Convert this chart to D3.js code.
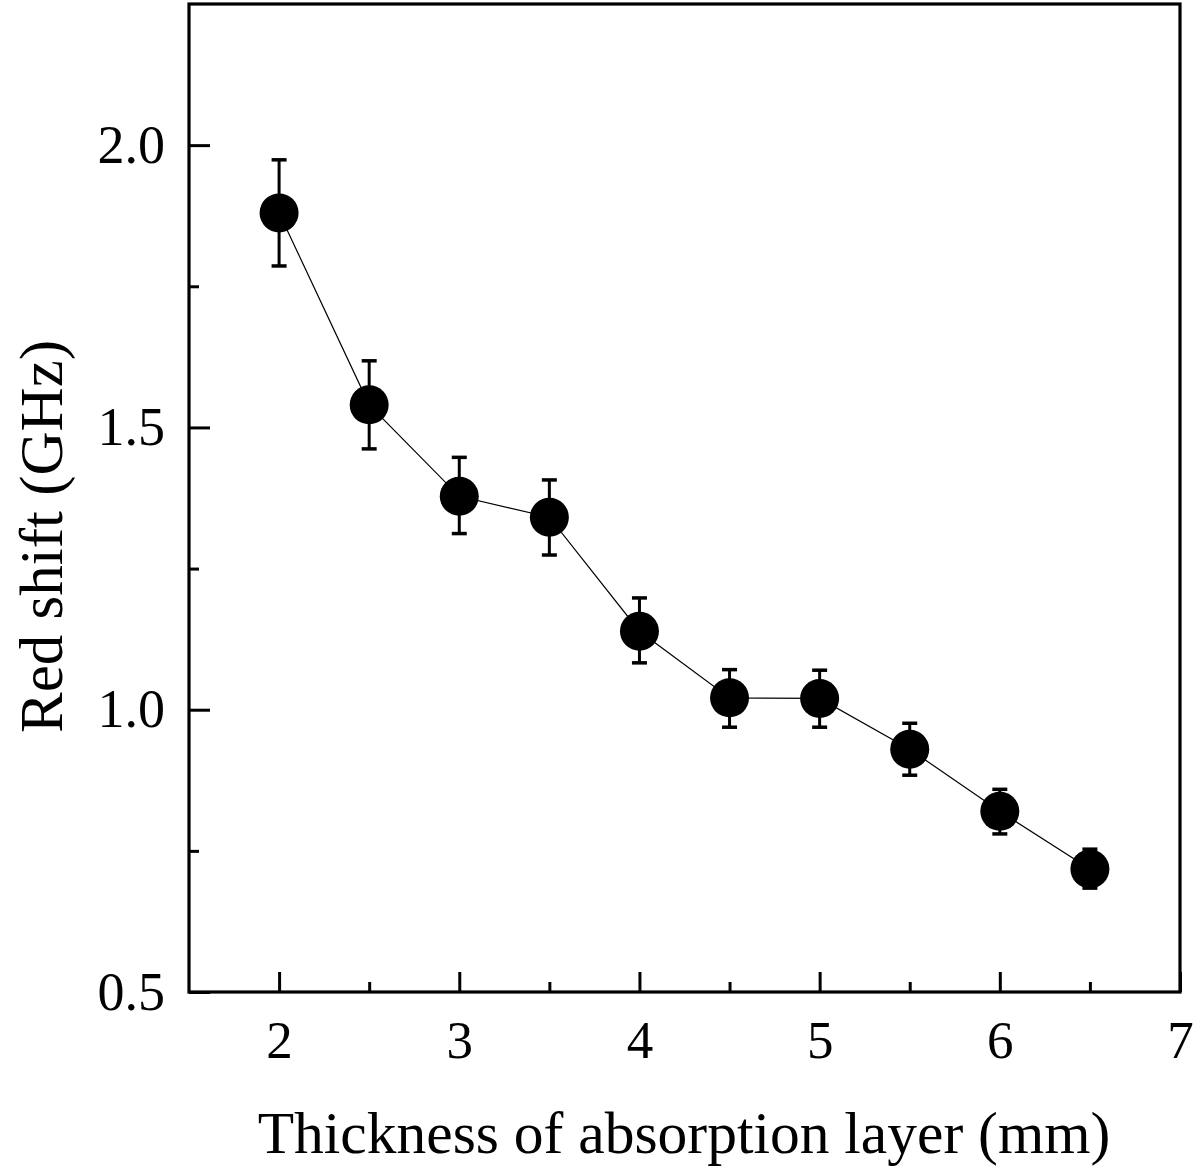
<!DOCTYPE html>
<html><head><meta charset="utf-8">
<script src="https://cdn.jsdelivr.net/npm/d3@7"></script>
<style>body{margin:0;background:#fff}svg{display:block}text{font-family:"Liberation Serif","Times New Roman",serif;fill:#000}</style>
</head><body>
<script>
const thickness = [2, 2.5, 3, 3.5, 4, 4.5, 5, 5.5, 6, 6.5];
const redShift = [1.88, 1.54, 1.378, 1.341, 1.139, 1.021, 1.02, 0.930, 0.82, 0.718];
const errUp =    [0.094, 0.078, 0.069, 0.066, 0.059, 0.05, 0.05, 0.046, 0.039, 0.035];
const errDown =  [0.094, 0.078, 0.066, 0.067, 0.056, 0.052, 0.051, 0.046, 0.04, 0.034];
const xTicks = [2, 3, 4, 5, 6, 7];
const xMinor = [2.5, 3.5, 4.5, 5.5, 6.5];
const yTicks = [0.5, 1.0, 1.5, 2.0];
const yMinor = [0.75, 1.25, 1.75];

const W = 1200, H = 1171;
const L = 189, R = 1180, T = 4, B = 992;
const svg = d3.select("body").append("svg").attr("width", W).attr("height", H);
const x = d3.scaleLinear().domain([1.5, 7]).range([L, R]);
const y = d3.scaleLinear().domain([0.5, 2.25]).range([B, T]);

// frame
svg.append("rect").attr("x", L).attr("y", T).attr("width", R - L).attr("height", B - T)
  .attr("fill", "none").attr("stroke", "#000").attr("stroke-width", 3.2);

// x axis
const gx = svg.append("g").attr("transform", `translate(0,${B})`);
gx.call(d3.axisBottom(x).tickValues(xTicks).tickSize(-20).tickPadding(28).tickFormat(d3.format("d")));
gx.select(".domain").remove();
gx.selectAll(".tick line").attr("stroke-width", 3);
gx.selectAll("text").attr("font-size", 53).attr("dy", "0.71em");
const gxm = svg.append("g").attr("transform", `translate(0,${B})`);
gxm.call(d3.axisBottom(x).tickValues(xMinor).tickSize(-10).tickFormat(""));
gxm.select(".domain").remove();
gxm.selectAll(".tick line").attr("stroke-width", 3);

// y axis
const gy = svg.append("g").attr("transform", `translate(${L},0)`);
gy.call(d3.axisLeft(y).tickValues(yTicks).tickSize(-21).tickPadding(24).tickFormat(d3.format(".1f")));
gy.select(".domain").remove();
gy.selectAll(".tick line").attr("stroke-width", 3);
gy.selectAll("text").attr("font-size", 54);
const gym = svg.append("g").attr("transform", `translate(${L},0)`);
gym.call(d3.axisLeft(y).tickValues(yMinor).tickSize(-10).tickFormat(""));
gym.select(".domain").remove();
gym.selectAll(".tick line").attr("stroke-width", 3);

// axis titles
svg.append("text").attr("x", (258 + 1110) / 2).attr("y", 1153).attr("text-anchor", "middle")
  .attr("font-size", 59.5).text("Thickness of absorption layer (mm)");
svg.append("text").attr("transform", `translate(62,${(340 + 733) / 2}) rotate(-90)`).attr("text-anchor", "middle")
  .attr("font-size", 61).text("Red shift (GHz)");

const data = thickness.map((t, i) => ({t, v: redShift[i], up: errUp[i], dn: errDown[i]}));

// connecting line
svg.append("path").datum(data).attr("fill", "none").attr("stroke", "#000").attr("stroke-width", 1.2)
  .attr("d", d3.line().x(d => x(d.t)).y(d => y(d.v)));

// error bars
const eb = svg.append("g").selectAll("g").data(data).join("g");
eb.append("line").attr("x1", d => x(d.t)).attr("x2", d => x(d.t))
  .attr("y1", d => y(d.v + d.up)).attr("y2", d => y(d.v - d.dn)).attr("stroke", "#000").attr("stroke-width", 3);
eb.append("line").attr("x1", d => x(d.t) - 7.5).attr("x2", d => x(d.t) + 7.5)
  .attr("y1", d => y(d.v + d.up)).attr("y2", d => y(d.v + d.up)).attr("stroke", "#000").attr("stroke-width", 3.5);
eb.append("line").attr("x1", d => x(d.t) - 7.5).attr("x2", d => x(d.t) + 7.5)
  .attr("y1", d => y(d.v - d.dn)).attr("y2", d => y(d.v - d.dn)).attr("stroke", "#000").attr("stroke-width", 3.5);

// markers
svg.append("g").selectAll("circle").data(data).join("circle")
  .attr("cx", d => x(d.t)).attr("cy", d => y(d.v)).attr("r", 19.5).attr("fill", "#000");
</script>
</body></html>
